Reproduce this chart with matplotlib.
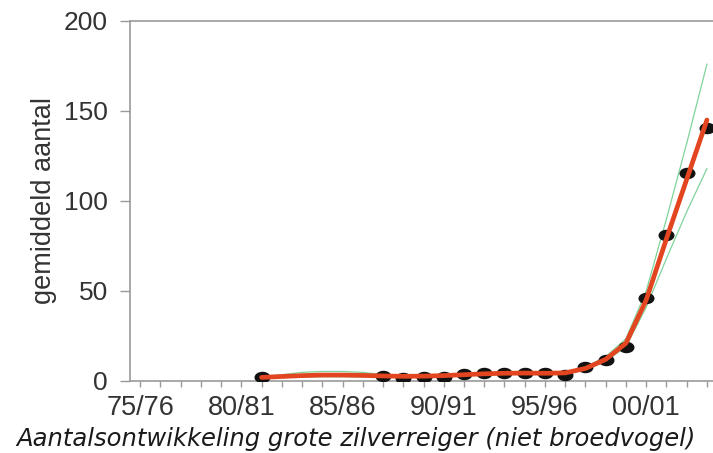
import matplotlib
matplotlib.use('Agg')
import matplotlib.pyplot as plt
import numpy as np
from matplotlib.path import Path
from matplotlib.transforms import Affine2D

# seizoenen (startjaar), telwaarden
years = [1981, 1987, 1988, 1989, 1990, 1991, 1992, 1993, 1994, 1995,
         1996, 1997, 1998, 1999, 2000, 2001, 2002, 2003]
counts = [2.4, 2.8, 1.8, 2.4, 2.4, 3.7, 4.6, 4.6, 4.6, 4.6,
          3.3, 8.0, 11.7, 19.0, 46.0, 81.0, 115.5, 140.5]

# trendlijn met betrouwbaarheidsgrenzen
trend_years = [1981, 1982, 1983, 1984, 1985, 1986, 1987, 1988, 1989, 1990, 1991,
               1992, 1993, 1994, 1995, 1996, 1997, 1998, 1999, 2000, 2001, 2002, 2003]
trend = [2.0, 2.5, 3.0, 3.3, 3.3, 3.1, 2.8, 2.6, 2.7, 3.0, 3.5,
         4.0, 4.3, 4.4, 4.3, 4.5, 7.0, 12.0, 21.0, 45.0, 79.0, 112.0, 145.0]
upper = [2.3, 3.5, 4.8, 5.3, 5.3, 4.8, 3.5, 3.0, 3.0, 3.3, 3.9,
         4.4, 4.7, 4.8, 4.7, 5.0, 7.8, 13.5, 23.5, 50.0, 90.0, 132.0, 176.0]
lower = [1.8, 2.0, 2.2, 2.4, 2.4, 2.3, 2.2, 2.2, 2.4, 2.7, 3.1,
         3.6, 3.9, 4.0, 3.9, 4.0, 6.3, 11.0, 19.0, 41.0, 68.0, 94.0, 118.0]

tick_pos = [1975, 1980, 1985, 1990, 1995, 2000]
tick_labels = ['75/76', '80/81', '85/86', '90/91', '95/96', '00/01']

plt.rcParams['font.family'] = ['Liberation Sans', 'DejaVu Sans']

fig = plt.figure(figsize=(7.13, 4.53), dpi=100)
ax = fig.add_axes([130 / 713, 72 / 453, 583 / 713, 360 / 453])

grey = '#9a9a9a'
txt = '#333333'

ax.plot(trend_years, upper, color='#7fd39a', lw=0.9, zorder=2)
ax.plot(trend_years, lower, color='#7fd39a', lw=0.9, zorder=2)

ell = Path.unit_circle().transformed(Affine2D().scale(1.45, 1.0))
ax.plot(years, counts, ls='none', marker=ell, ms=10.5, color='#111111', zorder=3)
ax.plot(trend_years, trend, color='#e2451f', lw=3.4, solid_capstyle='round', zorder=4)

ax.set_xlim(1974.5, 2003.3)
ax.set_ylim(0, 200)
ax.set_yticks([0, 50, 100, 150, 200])
ax.set_xticks(tick_pos)
ax.set_xticklabels(tick_labels)
ax.set_xticks(np.arange(1975, 2004), minor=True)

for s in ['left', 'bottom', 'top']:
    ax.spines[s].set_color(grey)
    ax.spines[s].set_linewidth(1.2)
ax.spines['right'].set_visible(False)

ax.tick_params(axis='y', length=7, width=1, color=grey, labelsize=19, labelcolor=txt, pad=9)
ax.tick_params(axis='x', which='both', length=4, width=1, color=grey, labelsize=19.5,
               labelcolor=txt, pad=6)

ax.set_ylabel('gemiddeld aantal', fontsize=19.5, color=txt, labelpad=5)

fig.text(0.4995, 0.0155, 'Aantalsontwikkeling grote zilverreiger (niet broedvogel)',
         family='DejaVu Sans', style='italic', fontsize=17.5, color='#1a1a1a',
         ha='center', va='baseline')

fig.savefig('out.png', dpi=100)
